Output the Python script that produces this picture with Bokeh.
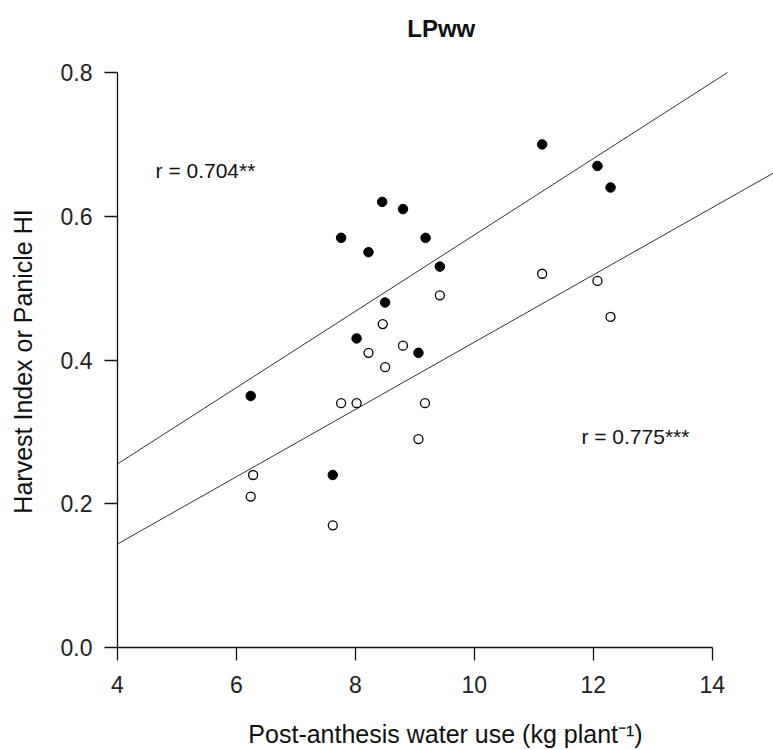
from bokeh.plotting import figure
from bokeh.models import Label, Range1d, FixedTicker
from bokeh.embed import file_html
from bokeh.resources import INLINE

# Panicle HI (filled circles)
panicle_x = [6.24, 7.62, 7.76, 8.02, 8.22, 8.45, 8.50, 8.80, 9.06, 9.18, 9.42, 11.14, 12.07, 12.29]
panicle_y = [0.35, 0.24, 0.57, 0.43, 0.55, 0.62, 0.48, 0.61, 0.41, 0.57, 0.53, 0.70, 0.67, 0.64]

# Harvest index (open circles)
harvest_x = [6.24, 6.28, 7.62, 7.76, 8.02, 8.22, 8.46, 8.50, 8.80, 9.06, 9.17, 9.42, 11.14, 12.07, 12.29]
harvest_y = [0.21, 0.24, 0.17, 0.34, 0.34, 0.41, 0.45, 0.39, 0.42, 0.29, 0.34, 0.49, 0.52, 0.51, 0.46]

# Regression lines (upper: panicle HI, lower: harvest index)
fit_slope = [0.0531, 0.0468]
fit_intercept = [0.0430, -0.0432]
fit_labels = ["r = 0.704**", "r = 0.775***"]

x_ticks = [4, 6, 8, 10, 12, 14]
y_ticks = [0.0, 0.2, 0.4, 0.6, 0.8]
y_tick_labels = ["0.0", "0.2", "0.4", "0.6", "0.8"]
title_text = "LPww"

FONT = "Liberation Sans"
INK = "#111111"
X_END = 15.03
Y_END = 0.9002

p = figure(width=773, height=750, x_range=Range1d(x_ticks[0], X_END), y_range=Range1d(0, Y_END),
           output_backend="svg", toolbar_location=None,
           min_border_left=117, min_border_right=0, min_border_top=0, min_border_bottom=103)
p.outline_line_color = None
p.xgrid.visible = False
p.ygrid.visible = False
p.background_fill_color = "white"
p.border_fill_color = "white"

for ax in (p.xaxis[0], p.yaxis[0]):
    ax.major_tick_out = 13
    ax.major_tick_in = 0
    ax.minor_tick_line_color = None
    ax.axis_line_color = INK
    ax.axis_line_width = 1.3
    ax.major_tick_line_color = INK
    ax.major_tick_line_width = 1.3
    ax.major_label_text_font = FONT
    ax.major_label_text_font_size = "23px"
    ax.major_label_text_color = "#222222"
    ax.axis_label_text_font = FONT
    ax.axis_label_text_font_size = "25px"
    ax.axis_label_text_font_style = "normal"
    ax.axis_label_text_color = INK

p.xaxis[0].ticker = FixedTicker(ticks=x_ticks)
p.xaxis[0].bounds = (x_ticks[0], x_ticks[-1])
p.xaxis[0].major_label_standoff = 15
p.xaxis[0].axis_label = "Post-anthesis water use (kg plant\u207b\u00b9)"
p.xaxis[0].axis_label_standoff = 24

p.yaxis[0].ticker = FixedTicker(ticks=y_ticks)
p.yaxis[0].bounds = (y_ticks[0], y_ticks[-1])
p.yaxis[0].major_label_overrides = {t: l for t, l in zip(y_ticks, y_tick_labels)}
p.yaxis[0].major_label_standoff = 12
# trailing em spaces centre the visible label on the 0-0.8 axis rather than the taller frame
p.yaxis[0].axis_label = "Harvest Index or Panicle HI" + "\u2003" * 3
p.yaxis[0].axis_label_standoff = 21

# regression lines, clipped at the top of the plotting region (y = 0.8)
y_top = y_ticks[-1]
for g, b in zip(fit_slope, fit_intercept):
    xs = [x_ticks[0], min(X_END, (y_top - b) / g)]
    p.line(xs, [b + g * x for x in xs], line_color="#333333", line_width=1)

p.scatter(harvest_x, harvest_y, marker="circle", size=9, fill_color="white",
          line_color="black", line_width=1.3)
p.scatter(panicle_x, panicle_y, marker="circle", size=9.5, fill_color="black",
          line_color="black", line_width=1)

p.add_layout(Label(x=4.64, y=0.663, text=fit_labels[0], text_baseline="middle",
                   text_font=FONT, text_font_size="21px", text_color=INK))
p.add_layout(Label(x=11.80, y=0.293, text=fit_labels[1], text_baseline="middle",
                   text_font=FONT, text_font_size="21px", text_color=INK))

# title, centred over the plotting region
p.add_layout(Label(x=9.444, y=y_top, y_offset=44, text=title_text, text_align="center",
                   text_baseline="alphabetic", text_font=FONT, text_font_size="24px",
                   text_font_style="bold", text_color=INK))

open("out.html", "w").write(file_html(p, INLINE))
